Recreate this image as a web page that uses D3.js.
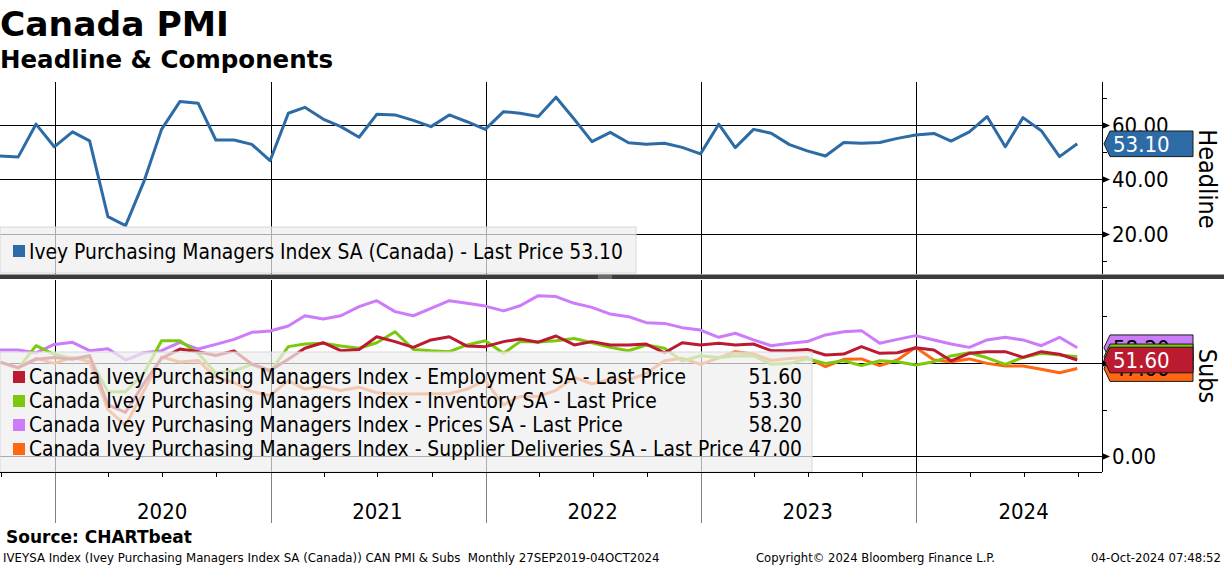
<!DOCTYPE html>
<html><head><meta charset="utf-8">
<script src="https://cdn.jsdelivr.net/npm/d3@7"></script>
<style>
html,body{margin:0;padding:0;background:#fff;}
svg{display:block;}
</style></head>
<body>
<svg id="c" width="1224" height="566"></svg>
<script>
// ---------- DATA (monthly, Sep 2019 .. Sep 2024) ----------
const startMonth = [2019, 9]; // Sep 2019 (month-end dates)
const headline = [48.6,48.3,60.3,52.0,57.5,54.2,26.4,23.1,39.2,58.4,68.6,68.0,54.5,54.5,52.9,46.9,64.3,66.5,62.2,59.4,55.5,63.9,63.7,61.7,59.4,63.7,61.2,58.4,64.9,64.3,63.1,70.2,62.1,53.9,57.3,53.5,52.9,53.3,51.8,49.4,60.3,51.7,58.4,57.0,52.8,50.5,48.6,53.6,53.3,53.6,55.1,56.3,56.9,54.1,57.5,63.1,52.0,62.7,57.9,48.4,53.1];
const employment = [50.5,47.5,52.0,53.0,52.0,54.0,27.5,23.5,39.0,52.5,57.5,56.0,54.0,56.5,49.5,46.0,52.0,57.9,60.9,56.6,57.3,64.1,61.5,58.4,62.4,64.1,59.1,58.8,61.5,62.9,61.2,64.5,59.7,61.5,59.7,59.7,60.2,55.5,60.9,59.7,60.6,59.7,60.2,56.6,56.6,57.3,54.3,54.8,58.8,55.2,55.5,58.2,57.0,51.2,55.2,56.1,56.1,53.0,56.1,54.7,51.6];
const inventory = [50.4,47.1,59.3,54.7,52.5,53.0,34.6,34.6,44.5,62.0,62.0,55.2,44.5,45.7,49.3,45.3,58.8,60.2,60.6,59.1,57.9,60.9,66.8,57.3,56.6,56.1,59.7,62.0,55.2,61.5,61.3,62.0,63.2,60.9,58.4,56.6,59.7,57.9,51.1,53.9,52.8,53.9,53.8,49.3,49.8,52.3,49.8,51.2,48.6,51.2,50.7,48.9,50.7,53.8,55.5,52.8,49.3,53.0,55.2,54.3,53.3];
const prices = [57.0,57.0,55.5,60.0,61.1,56.6,57.7,51.6,55.5,56.6,61.1,57.5,60.0,62.7,66.5,67.2,69.9,75.4,73.7,75.4,80.3,83.5,77.6,75.4,79.4,83.5,82.1,80.6,78.0,80.8,86.2,85.7,82.1,79.9,76.3,74.9,71.7,71.3,69.0,67.7,63.8,66.0,62.4,59.3,60.6,61.5,65.1,66.8,67.4,60.6,62.7,64.7,62.4,60.2,58.4,62.4,63.8,62.4,59.3,63.8,58.2];
const deliveries = [50.4,47.5,52.5,49.8,53.0,50.7,25.0,16.5,35.0,53.2,50.5,51.4,42.2,39.5,34.6,32.5,40.5,36.0,37.3,35.2,37.0,34.0,33.3,33.3,33.5,33.5,36.0,40.5,27.5,32.0,32.0,35.3,42.3,38.8,41.3,40.9,44.4,51.2,52.5,49.3,52.8,56.1,54.8,51.4,52.4,52.9,48.0,52.0,52.2,48.6,51.6,58.4,51.6,50.7,52.2,49.8,48.4,48.4,46.6,44.8,47.0];

const seriesNames = ["Employment","Inventory","Prices","Supplier Deliveries"];
const seriesColors = ["#bb1a30","#7cc80c","#cc7bf9","#ff6612"];
const headlineColor = "#2c6ba5";
const headlineLabel = "Ivey Purchasing Managers Index SA (Canada) - Last Price 53.10";
const subLabels = [
  "Canada Ivey Purchasing Managers Index - Employment SA - Last Price",
  "Canada Ivey Purchasing Managers Index - Inventory SA - Last Price",
  "Canada Ivey Purchasing Managers Index - Prices SA - Last Price",
  "Canada Ivey Purchasing Managers Index - Supplier Deliveries SA - Last Price"];
const subLast = ["51.60","53.30","58.20","47.00"];
const topTicksMajor = [20,40,60], topTicksMinor = [10,30,50,70];
const botTicksMajor = [0,50], botTicksMinor = [25,75];
const yearLabels = ["2020","2021","2022","2023","2024"];

// ---------- SETUP ----------
const svg = d3.select("#c");
const FONT = "'DejaVu Sans Condensed','DejaVu Sans',sans-serif";
const FONTW = "'DejaVu Sans',sans-serif";
const dates = headline.map((d,i)=> new Date(startMonth[0], startMonth[1]+i, 0));
const x = d3.scaleTime().domain([new Date(2019,8,30), new Date(2024,10,11)]).range([0,1102]);
const PR = 1102;
const yT = d3.scaleLinear().domain([5.32,75.78]).range([274,82]);
const yB = d3.scaleLinear().domain([-8.6,94.62]).range([472,280]);

function txt(g, f){ return g.append("text").style("font-family", f || FONT); }

// title
txt(svg,FONTW).attr("x",0).attr("y",36).attr("font-size",34.5).attr("font-weight","bold").text("Canada PMI");
txt(svg,FONTW).attr("x",0).attr("y",68).attr("font-size",24.5).attr("font-weight","bold").text("Headline & Components");

const defs = svg.append("defs");
defs.append("clipPath").attr("id","clipT").append("rect").attr("x",0).attr("y",82).attr("width",PR).attr("height",192);
defs.append("clipPath").attr("id","clipB").append("rect").attr("x",0).attr("y",280).attr("width",PR).attr("height",192);

const years = [2020,2021,2022,2023,2024].map(y=>new Date(y,0,1));

// gridlines
function grid(g, yS, majors, y0, y1){
  g.selectAll(".h").data(majors).join("line")
    .attr("x1",0).attr("x2",PR).attr("y1",d=>Math.round(yS(d))+0.5).attr("y2",d=>Math.round(yS(d))+0.5)
    .attr("stroke","#000").attr("stroke-width",1);
  g.selectAll(".v").data(years).join("line")
    .attr("x1",d=>Math.round(x(d))+0.5).attr("x2",d=>Math.round(x(d))+0.5).attr("y1",y0).attr("y2",y1)
    .attr("stroke","#000").attr("stroke-width",1);
}
grid(svg.append("g"), yT, topTicksMajor, 82, 274);
grid(svg.append("g"), yB, botTicksMajor, 280, 472);

// lines
const lineT = d3.line().x((d,i)=>x(dates[i])).y(d=>yT(d));
const lineB = d3.line().x((d,i)=>x(dates[i])).y(d=>yB(d));
svg.append("g").attr("clip-path","url(#clipT)").append("path").datum(headline)
  .attr("d",lineT).attr("fill","none").attr("stroke",headlineColor).attr("stroke-width",3).attr("stroke-linejoin","round");
const subData = [employment, inventory, prices, deliveries];
const drawOrder = [3,2,1,0];
const gB = svg.append("g").attr("clip-path","url(#clipB)");
drawOrder.forEach(k=>{
  gB.append("path").datum(subData[k]).attr("d",lineB).attr("fill","none")
    .attr("stroke",seriesColors[k]).attr("stroke-width",3).attr("stroke-linejoin","round");
});

// legends (semi-transparent boxes)
svg.append("rect").attr("x",0).attr("y",227).attr("width",636).attr("height",46)
  .attr("fill","#efefef").attr("fill-opacity",0.72).attr("stroke","#d8d8d8").attr("stroke-width",1);
svg.append("rect").attr("x",13).attr("y",245).attr("width",12).attr("height",12).attr("fill",headlineColor);
txt(svg).attr("x",29).attr("y",259).attr("font-size",20.8).text(headlineLabel);

svg.append("rect").attr("x",0).attr("y",352).attr("width",812).attr("height",120)
  .attr("fill","#efefef").attr("fill-opacity",0.72).attr("stroke","#d8d8d8").attr("stroke-width",1);
const lg = svg.append("g");
subLabels.forEach((s,i)=>{
  const cy = 377 + i*24;
  lg.append("rect").attr("x",13).attr("y",cy-6).attr("width",12).attr("height",12).attr("fill",seriesColors[i]);
  txt(lg).attr("x",29).attr("y",cy+7).attr("font-size",20.8).text(s);
  txt(lg).attr("x",802).attr("y",cy+7).attr("font-size",20.8).attr("text-anchor","end").text(subLast[i]);
});

// x axis
svg.append("line").attr("x1",0).attr("x2",PR).attr("y1",472.5).attr("y2",472.5).attr("stroke","#000");
svg.selectAll(".yb").data(years).join("line")
  .attr("x1",d=>Math.round(x(d))+0.5).attr("x2",d=>Math.round(x(d))+0.5).attr("y1",473).attr("y2",523)
  .attr("stroke","#808080");
const qTicks = [];
for(let y=2019;y<=2024;y++) for(const m of [3,6,9]) { const d=new Date(y,m,1); if(x(d)>0 && x(d)<PR) qTicks.push(d); }
svg.selectAll(".qt").data(qTicks).join("line")
  .attr("x1",d=>Math.round(x(d))+0.5).attr("x2",d=>Math.round(x(d))+0.5).attr("y1",473).attr("y2",477)
  .attr("stroke","#000");
svg.selectAll(".yl").data(yearLabels).join("text").style("font-family",FONT)
  .attr("x",(d)=>x(new Date(+d,6,1))).attr("y",519).attr("text-anchor","middle").attr("font-size",22).text(d=>d);

// right axes
function rightAxis(yS, majors, minors, y0, y1){
  const g = svg.append("g");
  g.append("line").attr("x1",PR+0.5).attr("x2",PR+0.5).attr("y1",y0).attr("y2",y1).attr("stroke","#000");
  g.selectAll(".mi").data(minors).join("line").attr("x1",PR).attr("x2",PR+5)
    .attr("y1",d=>Math.round(yS(d))+0.5).attr("y2",d=>Math.round(yS(d))+0.5).attr("stroke","#000");
  g.selectAll(".ma").data(majors).join("path")
    .attr("d",d=>{const yy=Math.round(yS(d))+0.5; return `M${PR},${yy-3.5}L${PR+8},${yy}L${PR},${yy+3.5}Z`;}).attr("fill","#000");
  g.selectAll(".tl").data(majors).join("text").style("font-family",FONT).attr("x",PR+10).attr("y",d=>yS(d)).attr("dy","0.36em")
    .attr("font-size",22).text(d=>d3.format(".2f")(d));
}
rightAxis(yT, topTicksMajor, topTicksMinor, 82, 274);
rightAxis(yB, botTicksMajor, botTicksMinor, 280, 472);

// value tags
function tag(yy, fill, label, col){
  const h=25.6, x0=PR+2, xb=PR+8, xr=1193;
  svg.append("path").attr("d",`M${x0},${yy}L${xb},${yy-h/2}L${xr},${yy-h/2}L${xr},${yy+h/2}L${xb},${yy+h/2}Z`)
    .attr("fill",fill).attr("stroke","#1a1a1a").attr("stroke-width",1);
  txt(svg).attr("x",PR+11).attr("y",yy).attr("dy","0.36em").attr("font-size",22)
    .attr("fill",col).text(label);
}
tag(yT(headline[headline.length-1]), headlineColor, "53.10", "#fff");
const tagOrder = [2,3,1,0];
tagOrder.forEach(k=>{
  const v = subData[k][subData[k].length-1];
  tag(yB(v), seriesColors[k], subLast[k], k===0?"#fff":"#000");
});

// separator
svg.append("rect").attr("x",0).attr("y",274.5).attr("width",1224).attr("height",4.5).attr("fill","#3c3c3c");
svg.append("line").attr("x1",598).attr("x2",612).attr("y1",276).attr("y2",276).attr("stroke","#999");
svg.append("line").attr("x1",598).attr("x2",612).attr("y1",278).attr("y2",278).attr("stroke","#999");

// axis titles
txt(svg).attr("transform","translate(1199,179) rotate(90)").attr("text-anchor","middle")
  .attr("font-size",25).text("Headline");
txt(svg).attr("transform","translate(1199,376) rotate(90)").attr("text-anchor","middle")
  .attr("font-size",25).text("Subs");

// footer
txt(svg,FONTW).attr("x",6).attr("y",543).attr("font-size",17).attr("font-weight","bold").text("Source: CHARTbeat");
txt(svg).attr("x",3).attr("y",562).attr("font-size",13.1).attr("xml:space","preserve")
  .style("white-space","pre")
  .text("IVEYSA Index (Ivey Purchasing Managers Index SA (Canada)) CAN PMI & Subs  Monthly 27SEP2019-04OCT2024");
txt(svg).attr("x",756).attr("y",562).attr("font-size",13)
  .attr("textLength",239).attr("lengthAdjust","spacingAndGlyphs").text("Copyright\u00A9 2024 Bloomberg Finance L.P.");
txt(svg).attr("x",1221).attr("y",562).attr("text-anchor","end").attr("font-size",13).text("04-Oct-2024 07:48:52");
</script>
</body></html>
